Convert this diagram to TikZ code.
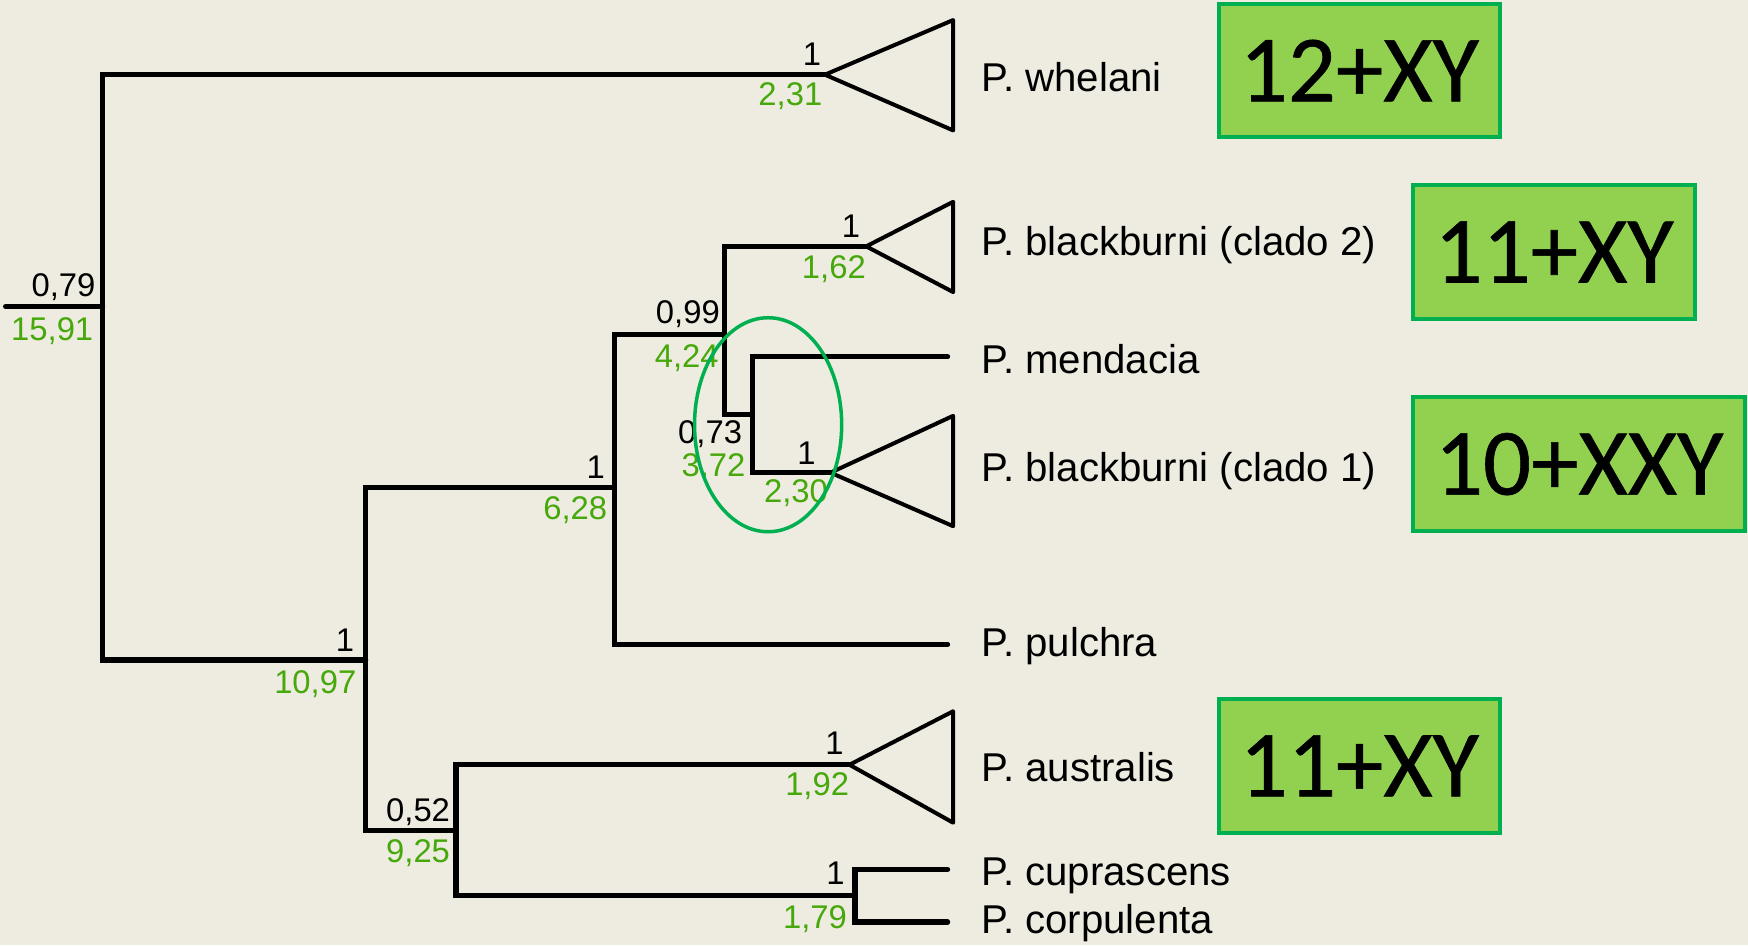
\documentclass[tikz,border=0pt]{standalone}
\usepackage{fontspec}
\setmainfont{Liberation Sans}
\newfontfamily\karyofont[FakeBold=0.6]{Carlito}
\definecolor{bg}{HTML}{EEECE1}
\definecolor{supgreen}{HTML}{46A80A}
\definecolor{boxfill}{HTML}{92D050}
\definecolor{boxline}{HTML}{00B050}
\begin{document}
\begin{tikzpicture}[x={(0.5574pt,0)}, y={(0,-0.5574pt)},
  branch/.style={line width=2.6pt, line join=miter, line cap=round},
  clade/.style={line width=2pt, line join=round},
  pp/.style={font=\fontsize{16.4}{18}\selectfont, anchor=base east, inner sep=0pt},
  age/.style={pp, text=supgreen},
  taxon/.style={font=\fontsize{20.1}{22}\selectfont, anchor=base west, inner sep=0pt},
  karyo/.style={draw=boxline, fill=boxfill, line width=2pt, inner sep=0pt,
    minimum height=66.8pt, font=\karyofont\fontsize{47.5}{50}\selectfont},
]
% canvas
\fill[bg] (0,0) rectangle (1568,848);
\useasboundingbox (0,0) rectangle (1568,848);

% internal nodes and tips
\coordinate (stub) at (5,275);
\coordinate (r)    at (92,275);
\coordinate (n1)   at (328,592);
\coordinate (n2)   at (551,437);
\coordinate (n3)   at (409,745);
\coordinate (n4)   at (650,300);
\coordinate (n5)   at (675,372);
\coordinate (n6)   at (767,803);
\coordinate (aW)   at (740,67);
\coordinate (aB2)  at (777,221);
\coordinate (aB1)  at (745,424);
\coordinate (aAus) at (762,686);
\coordinate (tMen) at (850,320);
\coordinate (tPul) at (850,578);
\coordinate (tCup) at (850,780);
\coordinate (tCor) at (850,827);

% branches
\draw[branch] (stub) -- (r);
\draw[branch] (r) |- (aW);
\draw[branch] (r) |- (n1);
\draw[branch] (n1) |- (n2);
\draw[branch] (n1) |- (n3);
\draw[branch] (n2) |- (n4);
\draw[branch] (n2) |- (tPul);
\draw[branch] (n4) |- (aB2);
\draw[branch] (n4) |- (n5);
\draw[branch] (n5) |- (tMen);
\draw[branch] (n5) |- (aB1);
\draw[branch] (n3) |- (aAus);
\draw[branch] (n3) |- (n6);
\draw[branch] (n6) |- (tCup);
\draw[branch] (n6) |- (tCor);

% collapsed clades
\draw[clade] (aW) -- (855,18) -- (855,117) -- cycle;
\draw[clade] (aB2) -- (855,181) -- (855,262) -- cycle;
\draw[clade] (aB1) -- (855,373) -- (855,472) -- cycle;
\draw[clade] (aAus) -- (855,638) -- (855,738) -- cycle;

% support values (black) and ages (green)
\node[pp]  (pR)   at (86,266)  {0,79};
\node[age] (gR)   at (84,305)  {15,91};
\node[pp]  (pW)   at (737,59)  {1};
\node[age] (gW)   at (738,95)  {2,31};
\node[pp]  (pN1)  at (318,584) {1};
\node[age] (gN1)  at (320,622) {10,97};
\node[pp]  (pN2)  at (543,429) {1};
\node[age] (gN2)  at (545,466) {6,28};
\node[pp]  (pN4)  at (646,290) {0,99};
\node[age] (gN4)  at (645,330) {4,24};
\node[pp]  (pN5)  at (666,398) {0,73};
\node[age] (gN5)  at (669,427) {3,72};
\node[pp]  (pB2)  at (772,213) {1};
\node[age] (gB2)  at (777,250) {1,62};
\node[pp]  (pB1)  at (732,417) {1};
\node[age] (gB1)  at (743,451) {2,30};
\node[pp]  (pN3)  at (404,737) {0,52};
\node[age] (gN3)  at (404,774) {9,25};
\node[pp]  (pAus) at (757,677) {1};
\node[age] (gAus) at (762,714) {1,92};
\node[pp]  (pN6)  at (758,793) {1};
\node[age] (gN6)  at (760,833) {1,79};

% taxa
\node[taxon] (lW)   at (880,82)  {P. whelani};
\node[taxon] (lB2)  at (880,229) {P. blackburni (clado 2)};
\node[taxon] (lMen) at (880,335) {P. mendacia};
\node[taxon] (lB1)  at (880,432) {P. blackburni (clado 1)};
\node[taxon] (lPul) at (880,589) {P. pulchra};
\node[taxon] (lAus) at (880,701) {P. australis};
\node[taxon] (lCup) at (880,794) {P. cuprascens};
\node[taxon] (lCor) at (880,837) {P. corpulenta};

% karyotypes
\node[karyo, minimum width=140.4pt] (kW)   at (1219.3,63.3) {12+XY};
\node[karyo, minimum width=140.6pt] (kB2)  at (1394,226)    {11+XY};
\node[karyo, minimum width=165.8pt] (kB1)  at (1416.5,416.3){10+XXY};
\node[karyo, minimum width=140.4pt] (kAus) at (1219.3,687)  {11+XY};

% highlighted node
\draw[boxline, line width=1.75pt] (689,381) ellipse [x radius=66, y radius=96];
\end{tikzpicture}
\end{document}
